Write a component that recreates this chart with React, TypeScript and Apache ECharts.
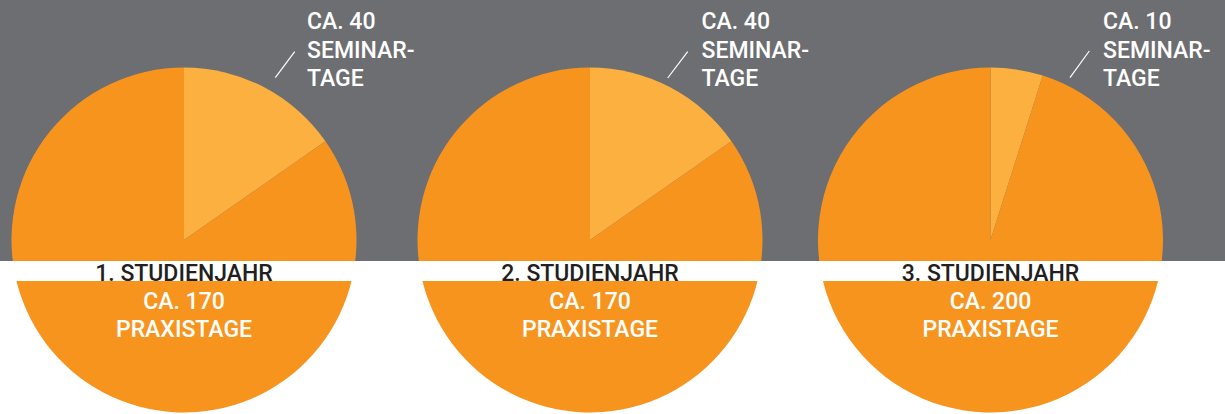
import React, { useEffect, useRef } from "react";
import * as echarts from "echarts";

// ---- data ----
const years = ["1. STUDIENJAHR", "2. STUDIENJAHR", "3. STUDIENJAHR"];
const seminarDays = [40, 40, 10];
const praxisDays = [170, 170, 200];
// slice shares as drawn in the picture (percent of the circle)
const seminarShare = [15.3, 15.3, 4.9];
const praxisShare = [84.7, 84.7, 95.1];

// ---- layout ----
const W = 1225;
const H = 414;
const centersX = [184, 590, 990.5];
const centerY = 240;
const radius = 172.5;
const topLabelX = [307, 701.5, 1103];
const leaderLines = [
  [294.7, 51.7, 275.3, 77.7],
  [687.7, 51.7, 667.7, 78],
  [1089.3, 51, 1070, 77.7],
];
const bandTop = 261;
const bandBottom = 281;

const GRAY = "#6d6e71";
const ORANGE = "#f7941e";
const LIGHT = "#fbb040";
const DARK = "#231f20";
const FONT = "Roboto";
const FS = 23;
const FW = 500;

export default function App() {
  const ref = useRef<HTMLDivElement>(null);
  useEffect(() => {
    if (!ref.current) return;
    const chart = echarts.init(ref.current, null, { renderer: "svg" });

    const series = years.map((y, i) => ({
      type: "pie",
      name: y,
      center: [centersX[i], centerY],
      radius: [0, radius],
      startAngle: 90,
      clockwise: true,
      silent: true,
      label: { show: false },
      labelLine: { show: false },
      itemStyle: { borderWidth: 0 },
      z: 2,
      data: [
        { name: "Seminartage", value: seminarShare[i], itemStyle: { color: LIGHT } },
        { name: "Praxistage", value: praxisShare[i], itemStyle: { color: ORANGE } },
      ],
    }));

    const elements: any[] = [
      {
        type: "rect",
        z: -10,
        shape: { x: 0, y: 0, width: W, height: bandTop },
        style: { fill: GRAY },
      },
      {
        type: "rect",
        z: 100,
        shape: { x: 0, y: bandTop, width: W, height: bandBottom - bandTop },
        style: { fill: "#ffffff" },
      },
    ];

    const font = `${FW} ${FS}px ${FONT}`;

    years.forEach((y, i) => {
      elements.push({
        type: "text",
        z: 101,
        x: centersX[i],
        y: 273,
        style: {
          text: y,
          fill: DARK,
          font,
          align: "center",
          verticalAlign: "middle",
        },
      });
      elements.push({
        type: "text",
        z: 101,
        x: centersX[i],
        y: 301.5,
        style: {
          text: `CA. ${praxisDays[i]}`,
          fill: "#ffffff",
          font,
          align: "center",
          verticalAlign: "middle",
        },
      });
      elements.push({
        type: "text",
        z: 101,
        x: centersX[i],
        y: 329.5,
        style: {
          text: "PRAXISTAGE",
          fill: "#ffffff",
          font,
          align: "center",
          verticalAlign: "middle",
        },
      });
      const topLines = [`CA. ${seminarDays[i]}`, "SEMINAR-", "TAGE"];
      const topYs = [21.5, 50.5, 78];
      topLines.forEach((t, k) => {
        elements.push({
          type: "text",
          z: 101,
          x: topLabelX[i],
          y: topYs[k],
          style: {
            text: t,
            fill: "#ffffff",
            font,
            align: "left",
            verticalAlign: "middle",
          },
        });
      });
      const l = leaderLines[i];
      elements.push({
        type: "line",
        z: 101,
        shape: { x1: l[0], y1: l[1], x2: l[2], y2: l[3] },
        style: { stroke: "#ffffff", lineWidth: 1.2 },
      });
    });

    chart.setOption({
      animation: false,
      backgroundColor: "#ffffff",
      series,
      graphic: { elements },
    } as any);

    return () => chart.dispose();
  }, []);

  return (
    <div
      ref={ref}
      style={{ position: "fixed", left: 0, top: 0, width: W, height: H }}
    />
  );
}
